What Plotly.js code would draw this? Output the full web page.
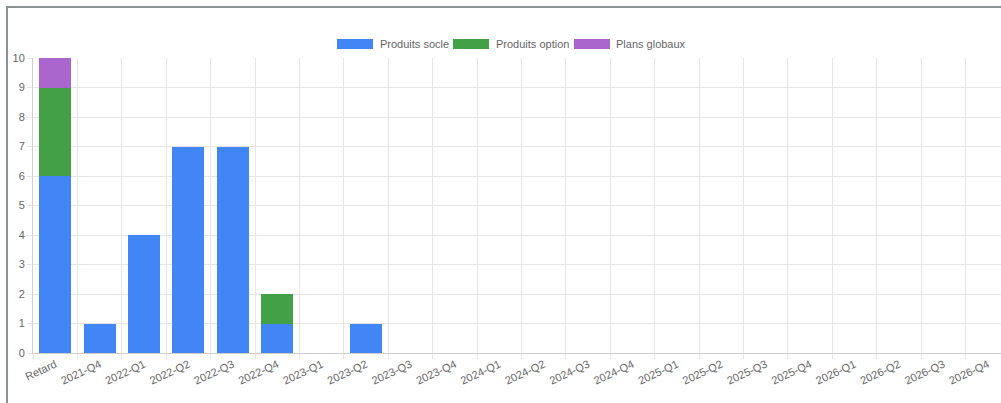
<!DOCTYPE html>
<html>
<head>
<meta charset="utf-8">
<script src="https://cdn.plot.ly/plotly-3.0.1.min.js"></script>
<style>
  html, body { margin: 0; padding: 0; background: #fff; overflow: hidden; width: 1001px; height: 403px; }
  #frame { position: absolute; left: 6px; top: 6px; width: 1100px; height: 500px; border-top: 2px solid #8c9196; border-left: 2px solid #8c9196; box-sizing: border-box; pointer-events: none; }
  #chart { position: absolute; left: 0; top: 0; }
</style>
</head>
<body>
<div id="chart"></div>
<div id="frame"></div>
<script>
const categories = ["Retard", "2021-Q4", "2022-Q1", "2022-Q2", "2022-Q3", "2022-Q4",
  "2023-Q1", "2023-Q2", "2023-Q3", "2023-Q4", "2024-Q1", "2024-Q2", "2024-Q3", "2024-Q4",
  "2025-Q1", "2025-Q2", "2025-Q3", "2025-Q4", "2026-Q1", "2026-Q2", "2026-Q3", "2026-Q4"];
const produitsSocle  = [6, 1, 4, 7, 7, 1, 0, 1, 0, 0, 0, 0, 0, 0, 0, 0, 0, 0, 0, 0, 0, 0];
const produitsOption = [3, 0, 0, 0, 0, 1, 0, 0, 0, 0, 0, 0, 0, 0, 0, 0, 0, 0, 0, 0, 0, 0];
const plansGlobaux   = [1, 0, 0, 0, 0, 0, 0, 0, 0, 0, 0, 0, 0, 0, 0, 0, 0, 0, 0, 0, 0, 0];
const seriesNames  = ["Produits socle", "Produits option", "Plans globaux"];
const seriesColors = ["#4285f4", "#43a047", "#aa66cc"];
const yTicks = [0, 1, 2, 3, 4, 5, 6, 7, 8, 9, 10];

const W = 1012, H = 403;
const M = { l: 33, r: 2, t: 58, b: 50 };
const plotW = W - M.l - M.r, plotH = H - M.t - M.b;
const px = x => (x - M.l) / plotW;
const py = y => (H - M.b - y) / plotH;

const series = [produitsSocle, produitsOption, plansGlobaux];
const traces = series.map((vals, i) => ({
  type: "bar",
  name: seriesNames[i],
  x: categories,
  y: vals.map(v => v === 0 ? null : v),
  marker: { color: seriesColors[i], line: { width: 0 } },
  hoverinfo: "x+y+name"
}));

// custom Chart.js-like legend
const legendItems = [
  { box: 337, text: 378 },
  { box: 453, text: 494 },
  { box: 574, text: 614 }
];
const shapes = legendItems.map((it, i) => ({
  type: "rect", xref: "paper", yref: "paper",
  x0: px(it.box), x1: px(it.box + 36), y0: py(49), y1: py(39),
  fillcolor: seriesColors[i], line: { width: 0 }, layer: "above"
}));
const annotations = legendItems.map((it, i) => ({
  xref: "paper", yref: "paper", x: px(it.text), y: py(44),
  xanchor: "left", yanchor: "middle", showarrow: false,
  text: seriesNames[i],
  font: { family: "Liberation Sans, Arial, sans-serif", size: 11, color: "#666" }
}));

const layout = {
  width: W, height: H,
  margin: M,
  barmode: "stack",
  bargap: 0.28,
  showlegend: false,
  paper_bgcolor: "rgba(0,0,0,0)",
  plot_bgcolor: "#fff",
  font: { family: "Liberation Sans, Arial, sans-serif", size: 11, color: "#666" },
  xaxis: {
    type: "category",
    tickson: "boundaries",
    showgrid: true, gridcolor: "#e6e6e6", gridwidth: 1,
    showline: true, linecolor: "#cfcfcf", linewidth: 1,
    ticks: "outside", ticklen: 5, tickcolor: "#e6e6e6",
    tickangle: -25,
    tickfont: { size: 11, color: "#666" },
    zeroline: false,
    fixedrange: true
  },
  yaxis: {
    range: [0, 10],
    tickvals: yTicks,
    showgrid: true, gridcolor: "#e6e6e6", gridwidth: 1,
    showline: true, linecolor: "#cfcfcf", linewidth: 1,
    ticks: "outside", ticklen: 5, tickcolor: "#e6e6e6",
    tickfont: { size: 11, color: "#666" },
    zeroline: false,
    fixedrange: true
  },
  shapes: shapes,
  annotations: annotations
};

Plotly.newPlot("chart", traces, layout, { displayModeBar: false, staticPlot: true });
</script>
</body>
</html>
